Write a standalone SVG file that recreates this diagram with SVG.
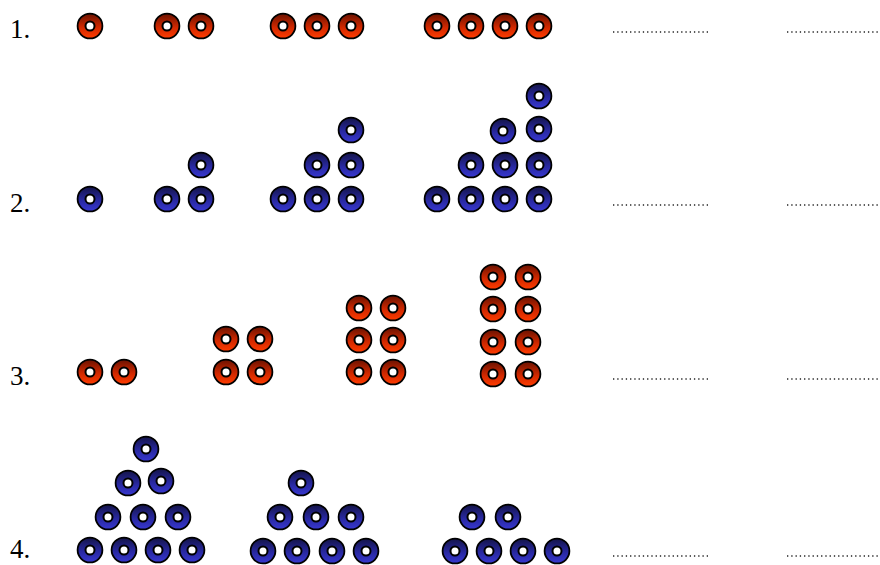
<svg xmlns="http://www.w3.org/2000/svg" xmlns:xlink="http://www.w3.org/1999/xlink" width="880" height="565" viewBox="0 0 880 565">
<style>
.lbl{font-family:"Liberation Serif","Times New Roman",serif;font-size:27px;fill:#000}
.dots{stroke:#222;stroke-width:1.3;stroke-dasharray:1.3 2.96;fill:none}
.ring{stroke:#000;stroke-width:1.8}
.hole{fill:#fff;stroke:#000;stroke-width:2}
</style>
<defs>
<linearGradient id="gr" x1="0" y1="0" x2="0" y2="1">
<stop offset="0" stop-color="#6a1200"/>
<stop offset="0.55" stop-color="#d02800"/>
<stop offset="1" stop-color="#ff3c00"/>
</linearGradient>
<linearGradient id="gb" x1="0" y1="0" x2="0" y2="1">
<stop offset="0" stop-color="#141448"/>
<stop offset="0.55" stop-color="#2828a0"/>
<stop offset="1" stop-color="#3838d0"/>
</linearGradient>
<g id="rb"><circle class="ring" r="12.4" fill="url(#gr)"/><circle class="hole" r="4.5"/></g>
<g id="bb"><circle class="ring" r="12.4" fill="url(#gb)"/><circle class="hole" r="4.5"/></g>
</defs>

<g id="labels">
<text class="lbl" x="10" y="38">1.</text>
<text class="lbl" x="10" y="212">2.</text>
<text class="lbl" x="10" y="385">3.</text>
<text class="lbl" x="10" y="558">4.</text>
</g>

<g id="answer-lines">
<path class="dots" d="M613 32H711M787 32H880M613 205H711M787 205H880M613 379H711M787 379H880M613 556H711M787 556H880"/>
</g>

<g id="row1-fig1"><use xlink:href="#rb" x="90" y="26"/></g>
<g id="row1-fig2"><use xlink:href="#rb" x="167" y="26"/><use xlink:href="#rb" x="201" y="26"/></g>
<g id="row1-fig3"><use xlink:href="#rb" x="283" y="26"/><use xlink:href="#rb" x="317" y="26"/><use xlink:href="#rb" x="351" y="26"/></g>
<g id="row1-fig4"><use xlink:href="#rb" x="437" y="26"/><use xlink:href="#rb" x="471" y="26"/><use xlink:href="#rb" x="505" y="26"/><use xlink:href="#rb" x="539" y="26"/></g>

<g id="row2-fig1"><use xlink:href="#bb" x="90" y="199"/></g>
<g id="row2-fig2"><use xlink:href="#bb" x="167" y="199"/><use xlink:href="#bb" x="201" y="199"/><use xlink:href="#bb" x="201" y="165"/></g>
<g id="row2-fig3"><use xlink:href="#bb" x="283" y="199"/><use xlink:href="#bb" x="317" y="199"/><use xlink:href="#bb" x="351" y="199"/><use xlink:href="#bb" x="317" y="165"/><use xlink:href="#bb" x="351" y="165"/><use xlink:href="#bb" x="351" y="130"/></g>
<g id="row2-fig4"><use xlink:href="#bb" x="437" y="199"/><use xlink:href="#bb" x="471" y="199"/><use xlink:href="#bb" x="505" y="199"/><use xlink:href="#bb" x="539" y="199"/><use xlink:href="#bb" x="471" y="165"/><use xlink:href="#bb" x="505" y="165"/><use xlink:href="#bb" x="539" y="165"/><use xlink:href="#bb" x="503" y="131"/><use xlink:href="#bb" x="539" y="129"/><use xlink:href="#bb" x="539" y="96"/></g>

<g id="row3-fig1"><use xlink:href="#rb" x="90" y="372"/><use xlink:href="#rb" x="124" y="372"/></g>
<g id="row3-fig2"><use xlink:href="#rb" x="226" y="339"/><use xlink:href="#rb" x="260" y="339"/><use xlink:href="#rb" x="226" y="372"/><use xlink:href="#rb" x="260" y="372"/></g>
<g id="row3-fig3"><use xlink:href="#rb" x="359" y="308"/><use xlink:href="#rb" x="393" y="308"/><use xlink:href="#rb" x="359" y="340"/><use xlink:href="#rb" x="393" y="340"/><use xlink:href="#rb" x="359" y="372"/><use xlink:href="#rb" x="393" y="372"/></g>
<g id="row3-fig4"><use xlink:href="#rb" x="493" y="277"/><use xlink:href="#rb" x="528" y="277"/><use xlink:href="#rb" x="493" y="309"/><use xlink:href="#rb" x="528" y="309"/><use xlink:href="#rb" x="493" y="342"/><use xlink:href="#rb" x="528" y="342"/><use xlink:href="#rb" x="493" y="374"/><use xlink:href="#rb" x="528" y="374"/></g>

<g id="row4-fig1"><use xlink:href="#bb" x="146" y="449"/><use xlink:href="#bb" x="128" y="483"/><use xlink:href="#bb" x="161" y="481"/><use xlink:href="#bb" x="108" y="517"/><use xlink:href="#bb" x="143" y="517"/><use xlink:href="#bb" x="178" y="517"/><use xlink:href="#bb" x="90" y="550"/><use xlink:href="#bb" x="124" y="550"/><use xlink:href="#bb" x="158" y="550"/><use xlink:href="#bb" x="192" y="550"/></g>
<g id="row4-fig2"><use xlink:href="#bb" x="301" y="483"/><use xlink:href="#bb" x="280" y="517"/><use xlink:href="#bb" x="316" y="517"/><use xlink:href="#bb" x="351" y="517"/><use xlink:href="#bb" x="263" y="551"/><use xlink:href="#bb" x="297" y="551"/><use xlink:href="#bb" x="332" y="551"/><use xlink:href="#bb" x="366" y="551"/></g>
<g id="row4-fig3"><use xlink:href="#bb" x="472" y="517"/><use xlink:href="#bb" x="508" y="517"/><use xlink:href="#bb" x="455" y="551"/><use xlink:href="#bb" x="489" y="551"/><use xlink:href="#bb" x="523" y="551"/><use xlink:href="#bb" x="557" y="551"/></g>
</svg>
